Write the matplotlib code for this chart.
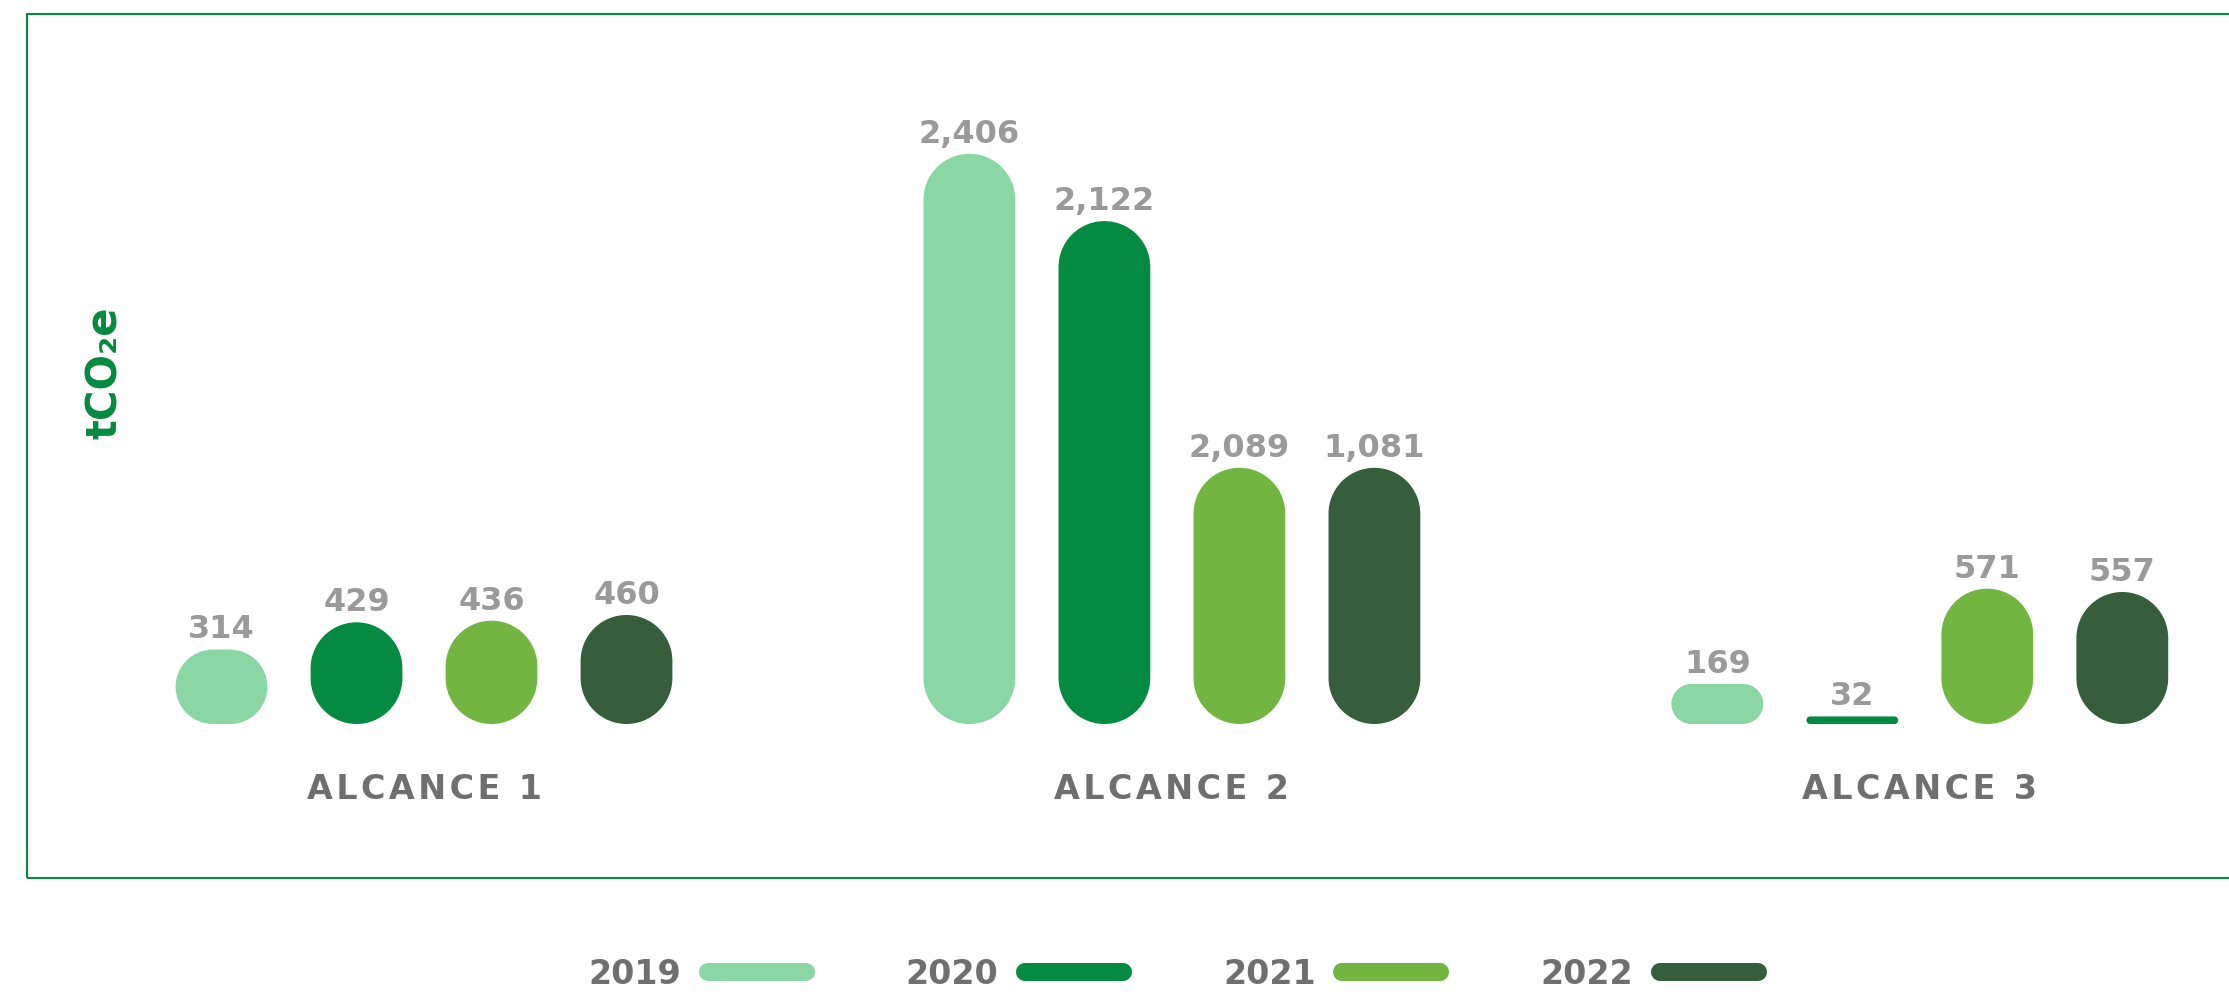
import matplotlib
matplotlib.use("Agg")
import matplotlib.pyplot as plt
from matplotlib.patches import PathPatch, Rectangle
from matplotlib.path import Path
from matplotlib.lines import Line2D

# datos (tCO2e)
alcances = ["ALCANCE 1", "ALCANCE 2", "ALCANCE 3"]
anios = ["2019", "2020", "2021", "2022"]
valores_2019 = [314, 2406, 169]
valores_2020 = [429, 2122, 32]
valores_2021 = [436, 2089, 571]
valores_2022 = [460, 1081, 557]
# altura con la que se dibuja cada barra en el original (la de 2021 / alcance 2
# aparece dibujada igual que la de 2022)
alturas_2019 = [314, 2406, 169]
alturas_2020 = [429, 2122, 32]
alturas_2021 = [436, 1081, 571]
alturas_2022 = [460, 1081, 557]

colores = ["#8ad6a4", "#058a41", "#72b541", "#365e3c"]
verde = "#058a41"
gris_valor = "#9a9a9a"
gris_texto = "#6f6f6f"

valores = [valores_2019, valores_2020, valores_2021, valores_2022]
alturas = [alturas_2019, alturas_2020, alturas_2021, alturas_2022]

W, H = 2229, 992
fig = plt.figure(figsize=(W / 100, H / 100), dpi=100)
ax = fig.add_axes([0, 0, 1, 1])
ax.axis("off")

# escalas: 1 unidad x = 135 px, 1 tCO2e = 0.237 px
px_x = 135.0
px_y = 0.237
base_px = 724
centro0_px = 424
ax.set_xlim(-centro0_px / px_x, (W - centro0_px) / px_x)
ax.set_ylim(-(H - base_px) / px_y, base_px / px_y)
aspecto = px_x / px_y

sep_grupo = 5.54
ancho = 0.68


def pildora(x0, w, h):
    # barra con esquinas circulares (en pixeles)
    rx = min(w / 2, h / aspecto / 2)
    ry = rx * aspecto
    x1 = x0 + w
    esquinas = [(x1 - rx, ry, -90, 0), (x1 - rx, h - ry, 0, 90),
                (x0 + rx, h - ry, 90, 180), (x0 + rx, ry, 180, 270)]
    verts, codes = [], []
    for k, (cx, cy, t1, t2) in enumerate(esquinas):
        arco = Path.arc(t1, t2)
        v = arco.vertices * [rx, ry] + [cx, cy]
        verts += list(map(tuple, v))
        codes += [Path.MOVETO if k == 0 else Path.LINETO] + list(arco.codes[1:])
    verts.append(verts[0])
    codes.append(Path.CLOSEPOLY)
    return Path(verts, codes)


for j, anio in enumerate(anios):
    for i in range(len(alcances)):
        xc = i * sep_grupo + (j - 1.5)
        h = alturas[j][i]
        ax.add_patch(PathPatch(pildora(xc - ancho / 2, ancho, h),
                               facecolor=colores[j], edgecolor="none"))
        ax.annotate(f"{valores[j][i]:,}", (xc, h), xytext=(0, 8),
                    textcoords="offset points", ha="center", va="baseline",
                    fontsize=23, fontweight="bold", color=gris_valor)

for i, nombre in enumerate(alcances):
    ax.text(i * sep_grupo, 1 - 799 / H, "\u200a".join(nombre),
            transform=ax.get_xaxis_transform(), ha="center", va="baseline",
            fontsize=24, fontweight="bold", color=gris_texto)

# eje y
fig.text(105 / W, 1 - 373 / H, "tCO\u2082e", rotation=90, ha="center",
         va="center", fontsize=30, fontweight="bold", color=verde)

# marco
marco = Rectangle((27 / W, 1 - 878 / H), 1.2, (878 - 14) / H,
                  transform=fig.transFigure, fill=False,
                  edgecolor=verde, linewidth=1.5)
fig.add_artist(marco)

# leyenda
manijas = [Line2D([], [], color=c, lw=13, solid_capstyle="round") for c in colores]
leg = fig.legend(manijas, anios, loc="center", ncol=4,
                 bbox_to_anchor=(1173 / W, 1 - 974 / H),
                 frameon=False, markerfirst=False,
                 handlelength=2.94, handletextpad=0.8, columnspacing=3.0,
                 prop={"size": 24, "weight": "bold"})
for t in leg.get_texts():
    t.set_color(gris_texto)

fig.savefig("out.png", dpi=100)
